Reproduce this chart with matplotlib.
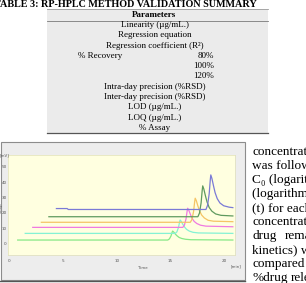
import matplotlib
matplotlib.use("Agg")
import matplotlib.pyplot as plt
from matplotlib.patches import Rectangle
from matplotlib.lines import Line2D

W, H = 306, 283
SERIF = ["Liberation Serif", "DejaVu Serif"]

# ---- table content ----
table_title = "TABLE 3: RP-HPLC METHOD VALIDATION SUMMARY"
table_header = "Parameters"
centered_rows = {
    0: "Linearity (µg/mL.)",
    1: "Regression equation",
    2: "Regression coefficient (R²)",
    6: "Intra-day precision (%RSD)",
    7: "Inter-day precision (%RSD)",
    8: "LOD (µg/mL.)",
    9: "LOQ (µg/mL.)",
    10: "% Assay",
}
recovery_label = "% Recovery"
recovery_levels = ["80%", "100%", "120%"]

# ---- body text to the right of the figure (justified column, cut by the page) ----
body_lines = [["concentration"], ["was followed"], ["C₀ (logarithm"], ["(logarithm of"],
              ["(t) for each"], ["concentration"], ["drug", "remaining"], ["kinetics) was"],
              ["compared"], ["%drug", "release"]]

# ---- chromatogram traces (time in min, signal) ----
green_t = [0.8, 14.75, 14.9, 15.05, 15.15, 15.2, 15.3, 15.45, 15.6, 15.8, 16.05, 16.4, 16.9, 20.8]
green_v = [2.4, 2.4, 3.1, 5.0, 7.3, 8.2, 7.6, 6.3, 5.2, 4.1, 3.4, 2.9, 2.6, 2.4]

cyan_t = [1.5, 15.45, 15.6, 15.75, 15.85, 15.9, 16.0, 16.15, 16.3, 16.5, 16.75, 17.1, 17.6, 20.8]
cyan_v = [6.7, 6.7, 7.7, 10.6, 14.1, 15.4, 14.5, 12.6, 10.9, 9.3, 8.2, 7.4, 7.0, 6.7]

pink_t = [2.2, 16.15, 16.3, 16.45, 16.55, 16.6, 16.7, 16.85, 17.0, 17.2, 17.45, 17.8, 18.3, 20.8]
pink_v = [10.6, 10.6, 12.1, 16.2, 21.1, 23.0, 21.8, 19.1, 16.6, 14.5, 13.1, 12.0, 11.4, 11.0]

orange_t = [3.0, 16.85, 17.0, 17.15, 17.25, 17.3, 17.4, 17.55, 17.7, 17.9, 18.15, 18.5, 19.0, 20.8]
orange_v = [13.9, 13.9, 15.8, 20.9, 27.2, 29.5, 28.0, 24.5, 21.4, 18.6, 16.7, 15.2, 14.6, 14.3]

dkgreen_t = [3.7, 17.55, 17.7, 17.85, 17.95, 18.0, 18.1, 18.25, 18.4, 18.6, 18.85, 19.2, 19.7, 20.8]
dkgreen_v = [17.5, 17.5, 19.9, 26.5, 34.5, 37.5, 35.5, 31.1, 27.1, 23.5, 21.1, 19.3, 18.4, 18.0]

blue_t = [4.4, 5.4, 5.5, 18.3, 18.45, 18.6, 18.7, 18.75, 18.85, 19.0, 19.15, 19.35, 19.6,
          19.95, 20.45, 20.8]
blue_v = [22.8, 22.8, 22.2, 22.2, 24.9, 32.3, 41.2, 44.6, 42.4, 37.6, 33.1, 29.2, 26.4,
          24.6, 23.7, 23.4]

traces = [
    (green_t, green_v, "#86e886"),
    (cyan_t, cyan_v, "#84f2d4"),
    (pink_t, pink_v, "#f07ae0"),
    (orange_t, orange_v, "#f5c465"),
    (dkgreen_t, dkgreen_v, "#5f9a5f"),
    (blue_t, blue_v, "#7a7ad6"),
]
x_ticks = [0, 5, 10, 15, 20]
y_ticks = [0, 10, 20, 30, 40, 50]


def fx(px):
    return px / W


def fy(py):
    return 1 - py / H


fig = plt.figure(figsize=(W / 100, H / 100), dpi=100)
fig.patch.set_facecolor("white")

# table block
fig.add_artist(Rectangle((fx(47), fy(133)), fx(268) - fx(47), fy(9) - fy(133),
                         transform=fig.transFigure, facecolor="#ebebeb", edgecolor="none",
                         zorder=-5))
for yy, col, lw in [(9, "#9a9a9a", 0.6), (20.5, "#7a7a7a", 0.6), (133, "#555555", 0.9)]:
    fig.add_artist(Line2D([fx(47), fx(268)], [fy(yy), fy(yy)], transform=fig.transFigure,
                          color=col, lw=lw, zorder=-4))

fig.text(fx(257), fy(4.5), table_title, ha="right", va="center", fontsize=7.3,
         fontweight="bold", family=SERIF)
fig.text(fx(154), fy(15), table_header, ha="center", va="center", fontsize=6.5,
         fontweight="bold", family=SERIF)
for i, txt in centered_rows.items():
    fig.text(fx(155), fy(25 + i * 10.3), txt, ha="center", va="center",
             fontsize=6.5, family=SERIF)
fig.text(fx(78), fy(25 + 3 * 10.3), recovery_label, ha="left", va="center",
         fontsize=6.5, family=SERIF)
for k, lvl in enumerate(recovery_levels):
    fig.text(fx(214), fy(25 + (3 + k) * 10.3), lvl, ha="right", va="center",
             fontsize=6.5, family=SERIF)

second_word_x = {6: 285, 9: 291}
for k, words in enumerate(body_lines):
    fig.text(fx(252.5), fy(152 + k * 14), words[0], ha="left", va="center",
             fontsize=9.5, family=SERIF)
    if len(words) > 1:
        fig.text(fx(second_word_x[k]), fy(152 + k * 14), words[1], ha="left",
                 va="center", fontsize=9.5, family=SERIF)

# chart panel
fig.add_artist(Rectangle((fx(0.5), fy(280)), fx(245) - fx(0.5), fy(142) - fy(280),
                         transform=fig.transFigure, facecolor="#ededed",
                         edgecolor="#8c8c8c", lw=0.8, zorder=-5))
fig.add_artist(Line2D([0, fx(245)], [fy(281), fy(281)], transform=fig.transFigure,
                      color="#555555", lw=1.0, zorder=-4))

ax = fig.add_axes([fx(8), fy(255), fx(235) - fx(8), fy(155) - fy(255)])
ax.set_facecolor("#ffffe0")
for t, v, c in traces:
    ax.plot(t, v, color=c, lw=0.9)
ax.set_xlim(-0.1, 21.0)
ax.set_ylim(-7.3, 57.5)
ax.set_xticks(x_ticks)
ax.set_yticks(y_ticks)
ax.tick_params(length=0, labelsize=3, labelcolor="#555555")
ax.tick_params(axis="x", pad=3)
ax.tick_params(axis="y", pad=1)
for s in ax.spines.values():
    s.set_color("#e0e0b8")
    s.set_linewidth(0.5)

fig.text(fx(5), fy(155), "[mV]", ha="center", va="center", fontsize=2.8, color="#555555")
fig.text(fx(1.4), fy(207), "Voltage", ha="center", va="center", fontsize=2.2,
         rotation=90, color="#555555")
fig.text(fx(143), fy(268), "Time", ha="center", va="center", fontsize=2.8, color="#555555")
fig.text(fx(236), fy(266), "[min]", ha="center", va="center", fontsize=2.8, color="#555555")

fig.savefig("out.png", dpi=100)
